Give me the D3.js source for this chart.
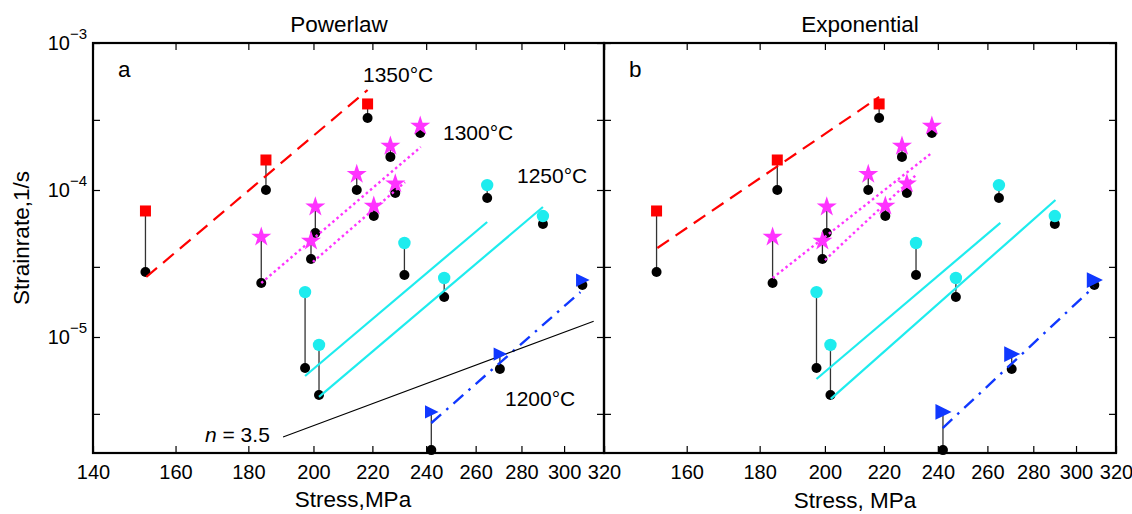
<!DOCTYPE html>
<html>
<head>
<meta charset="UTF-8">
<script src="https://d3js.org/d3.v7.min.js"></script>
<style>
body { margin: 0; background: #fff; }
text { font-family: "Liberation Sans", Arial, Helvetica, sans-serif; fill: #000; }
</style>
</head>
<body>
<script>
// tick values
const xTickVals = [140, 160, 180, 200, 220, 240, 260, 280, 300, 320];
const yTickVals = [1e-3, 3e-4, 1e-4, 3e-5, 1e-5, 3e-6];
const yLabelVals = [1e-3, 1e-4, 1e-5];

// measured (black) and model (coloured) strain rates per temperature
const s1350 = [152.4, 185.2, 218.3];
const obs1350 = [2.77e-5, 1.0e-4, 3.09e-4];
const mod1350 = [7.2e-5, 1.6e-4, 3.85e-4];

const s1300 = [183.8, 199.2, 200.6, 214.5, 220.5, 226.5, 228.3, 237.7];
const obs1300 = [2.33e-5, 3.39e-5, 5.1e-5, 1.0e-4, 6.65e-5, 1.68e-4, 9.55e-5, 2.44e-4];
const mod1300 = [4.86e-5, 4.57e-5, 7.8e-5, 1.3e-4, 7.9e-5, 2.02e-4, 1.12e-4, 2.77e-4];

const s1250 = [197.3, 201.8, 231.7, 247.1, 264.9, 289.9];
const obs1250 = [6.15e-6, 4.03e-6, 2.64e-5, 1.87e-5, 8.83e-5, 5.87e-5];
const mod1250 = [2.02e-5, 8.83e-6, 4.36e-5, 2.52e-5, 1.08e-4, 6.65e-5];

const s1200 = [242, 270.4, 309];
const obs1200 = [1.7e-6, 6.06e-6, 2.26e-5];
const mod1200 = [3.09e-6, 7.66e-6, 2.44e-5];

// fit lines [stress, rate]
const powRed   = [[152.6, 2.56e-5], [218.3, 4.79e-4]];
const powMag1  = [[183.8, 2.33e-5], [237.9, 1.96e-4]];
const powMag2  = [[199.8, 3.24e-5], [231.9, 1.13e-4]];
const powCyan1 = [[197.3, 5.43e-6], [264.9, 6.06e-5]];
const powCyan2 = [[201.8, 3.91e-6], [289.9, 7.66e-5]];
const powBlue  = [[242, 2.6e-6], [308, 2.02e-5]];
const nLine    = [[190.4, 2.09e-6], [314.7, 1.28e-5]];

const expRed   = [[152.6, 4.03e-5], [218.3, 4.29e-4]];
const expMag1  = [[183.8, 2.52e-5], [237.7, 1.79e-4]];
const expMag2  = [[200.0, 3.34e-5], [231.6, 1.26e-4]];
const expCyan1 = [[197.3, 5.18e-6], [265.5, 5.97e-5]];
const expCyan2 = [[201.9, 3.79e-6], [290.2, 8.55e-5]];
const expBlue  = [[241.9, 2.4e-6], [308.7, 2.19e-5]];

const RED = "#ff0000", MAG = "#ff33ff", CYAN = "#1eecee", BLUE = "#1038ff";

const groups = [
  {s: s1350, obs: obs1350, mod: mod1350, color: RED, shape: "square"},
  {s: s1300, obs: obs1300, mod: mod1300, color: MAG, shape: "star"},
  {s: s1250, obs: obs1250, mod: mod1250, color: CYAN, shape: "circle"},
  {s: s1200, obs: obs1200, mod: mod1200, color: BLUE, shape: "tri"}
];

const yTop = 43, yBottom = 453;

const svg = d3.select("body").append("svg")
  .attr("width", 1132)
  .attr("height", 514);

var y = d3.scaleLog().domain([1.625e-6, 1e-3]).range([yBottom, yTop]);

function drawPanel(opt) {
  var x = d3.scaleLog().domain([140, 320]).range([opt.x0, opt.x1]);
  var g = svg.append("g");

  // axes, ticks pointing inward
  var xb = g.append("g").attr("transform", "translate(0," + yBottom + ")")
    .call(d3.axisBottom(x).tickValues(xTickVals).tickSizeInner(-7).tickSizeOuter(0).tickPadding(12)
      .tickFormat(function(d) { return (opt.skip140 && d === 140) ? "" : d; }));
  xb.selectAll("text").style("font-size", "20px");
  g.append("g").attr("transform", "translate(0," + yTop + ")")
    .call(d3.axisTop(x).tickValues(xTickVals).tickSizeInner(-7).tickSizeOuter(0).tickFormat(""));

  g.append("g").attr("transform", "translate(" + opt.x0 + ",0)")
    .call(d3.axisLeft(y).tickValues(yTickVals).tickSizeInner(-7).tickSizeOuter(0).tickFormat(""));
  g.append("g").attr("transform", "translate(" + opt.x1 + ",0)")
    .call(d3.axisRight(y).tickValues(yTickVals).tickSizeInner(-7).tickSizeOuter(0).tickFormat(""));
  g.selectAll(".domain").remove();
  g.selectAll(".tick line").attr("stroke", "#000").attr("stroke-width", 1.2);

  if (opt.yLabels) {
    yLabelVals.forEach(function(v) {
      var t = g.append("text")
        .attr("x", opt.x0 - 6)
        .attr("y", y(v) + 7)
        .attr("text-anchor", "end")
        .style("font-size", "20px");
      t.append("tspan").text("10");
      t.append("tspan").attr("dy", -11).style("font-size", "15px")
        .text("\u2212" + Math.round(-Math.log10(v)));
    });
  }

  var line = d3.line().x(function(d) { return x(d[0]); }).y(function(d) { return y(d[1]); });

  // stems
  groups.forEach(function(gr) {
    gr.s.forEach(function(s, i) {
      g.append("line")
        .attr("x1", x(s)).attr("x2", x(s))
        .attr("y1", y(gr.obs[i])).attr("y2", y(gr.mod[i]))
        .attr("stroke", "#333").attr("stroke-width", 1.3);
    });
  });
  // measured points
  groups.forEach(function(gr) {
    g.selectAll(null).data(gr.s).enter().append("circle")
      .attr("cx", function(d) { return x(d); })
      .attr("cy", function(d, i) { return y(gr.obs[i]); })
      .attr("r", 5)
      .attr("fill", "#000");
  });

  // fit lines
  opt.fits.forEach(function(f) {
    g.append("path")
      .datum(f.pts)
      .attr("fill", "none")
      .attr("stroke", f.color)
      .attr("stroke-width", f.w)
      .attr("stroke-dasharray", f.dash)
      .attr("d", line);
  });

  // model markers
  var star = d3.symbol().type(d3.symbolStar).size(125);
  groups.forEach(function(gr) {
    gr.s.forEach(function(s, i) {
      var cx = x(s), cy = y(gr.mod[i]);
      if (gr.shape === "square") {
        g.append("rect").attr("x", cx - 5.5).attr("y", cy - 5.5).attr("width", 11).attr("height", 11).attr("fill", gr.color);
      } else if (gr.shape === "star") {
        g.append("path").attr("d", star).attr("transform", "translate(" + cx + "," + (cy + 1) + ")").attr("fill", gr.color);
      } else if (gr.shape === "circle") {
        g.append("circle").attr("cx", cx).attr("cy", cy).attr("r", 6.2).attr("fill", gr.color);
      } else {
        var a = opt.tri;
        g.append("path")
          .attr("d", "M" + (cx - a) + "," + (cy - a * 1.05) + "L" + (cx - a) + "," + (cy + a * 1.05) + "L" + (cx + a * 1.15) + "," + cy + "Z")
          .attr("fill", gr.color);
      }
    });
  });

  // frame
  g.append("rect")
    .attr("x", opt.x0).attr("y", yTop)
    .attr("width", opt.x1 - opt.x0).attr("height", yBottom - yTop)
    .attr("fill", "none").attr("stroke", "#000").attr("stroke-width", 2.2);

  // titles
  g.append("text").attr("x", opt.titleX).attr("y", 32).attr("text-anchor", "middle")
    .style("font-size", "22.5px").text(opt.title);
  g.append("text").attr("x", opt.xlabX).attr("y", opt.xlabY).attr("text-anchor", "middle")
    .style("font-size", "22.5px").text(opt.xlab);
  g.append("text").attr("x", opt.x0 + 25).attr("y", 77)
    .style("font-size", "22.5px").text(opt.letter);
  return x;
}

drawPanel({
  x0: 93, x1: 604, title: "Powerlaw", titleX: 339, letter: "a",
  xlab: "Stress,MPa", xlabX: 353, xlabY: 507, yLabels: true, skip140: false, tri: 6.3,
  fits: [
    {pts: powRed, color: RED, w: 2.2, dash: "14,8"},
    {pts: powMag1, color: MAG, w: 2.4, dash: "2.5,3"},
    {pts: powMag2, color: MAG, w: 2.4, dash: "2.5,3"},
    {pts: powCyan1, color: CYAN, w: 2.2, dash: null},
    {pts: powCyan2, color: CYAN, w: 2.2, dash: null},
    {pts: powBlue, color: BLUE, w: 2.4, dash: "13,7,2.5,7"},
    {pts: nLine, color: "#000", w: 1.1, dash: null}
  ]
});

drawPanel({
  x0: 604, x1: 1116, title: "Exponential", titleX: 860, letter: "b",
  xlab: "Stress, MPa", xlabX: 855, xlabY: 508, yLabels: false, skip140: true, tri: 7.5,
  fits: [
    {pts: expRed, color: RED, w: 2.2, dash: "14,8"},
    {pts: expMag1, color: MAG, w: 2.4, dash: "2.5,3"},
    {pts: expMag2, color: MAG, w: 2.4, dash: "2.5,3"},
    {pts: expCyan1, color: CYAN, w: 2.2, dash: null},
    {pts: expCyan2, color: CYAN, w: 2.2, dash: null},
    {pts: expBlue, color: BLUE, w: 2.4, dash: "13,7,2.5,7"}
  ]
});

// annotations in panel a
const tempLabels = [
  {t: "1350\u00B0C", x: 363, y: 82},
  {t: "1300\u00B0C", x: 443, y: 140},
  {t: "1250\u00B0C", x: 517, y: 183},
  {t: "1200\u00B0C", x: 505, y: 406}
];
svg.selectAll(null).data(tempLabels).enter().append("text")
  .attr("x", function(d) { return d.x; })
  .attr("y", function(d) { return d.y; })
  .style("font-size", "21px")
  .text(function(d) { return d.t; });

var nt = svg.append("text").attr("x", 205).attr("y", 442).style("font-size", "21px");
nt.append("tspan").style("font-style", "italic").text("n");
nt.append("tspan").text(" = 3.5");

// y axis title
svg.append("text")
  .attr("transform", "translate(29,238) rotate(-90)")
  .attr("text-anchor", "middle")
  .style("font-size", "22.5px")
  .text("Strainrate,1/s");
</script>
</body>
</html>
